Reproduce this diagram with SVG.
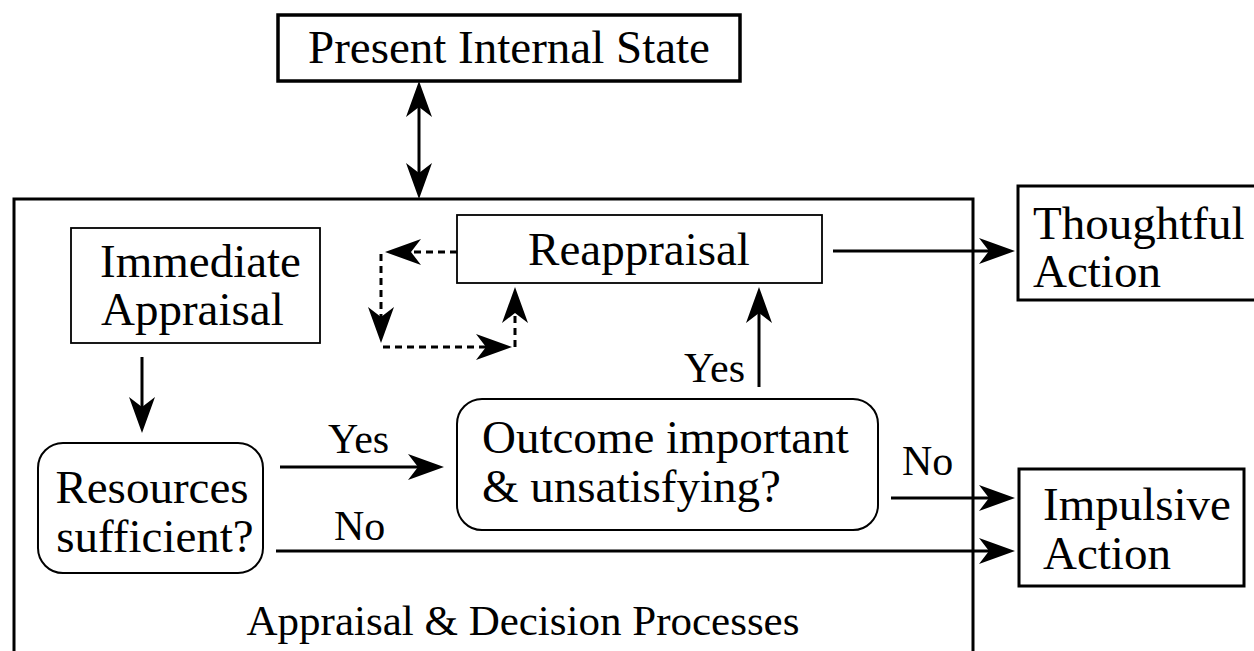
<svg xmlns="http://www.w3.org/2000/svg" width="1254" height="651" viewBox="0 0 1254 651" font-family="Tinos, 'Times New Roman', 'Liberation Serif', serif" font-size="47">
<defs>
<marker id="ah" viewBox="-18 -14 40 28" markerWidth="40" markerHeight="28" refX="0" refY="0" orient="auto-start-reverse" markerUnits="userSpaceOnUse">
<path d="M20,0 L-16,-13 L-6,0 L-16,13 Z" fill="#000"/>
</marker>
</defs>
<rect width="1254" height="651" fill="#fff"/>

<g id="appraisal-decision">
<path d="M14,660 L14,199 L973,199 L973,660" fill="none" stroke="#000" stroke-width="3"/>
<text x="523" y="635" text-anchor="middle" font-size="43">Appraisal &amp; Decision Processes</text>
</g>

<g id="present-internal-state">
<rect x="278" y="15" width="462" height="66" fill="#fff" stroke="#000" stroke-width="3.5"/>
<text x="509" y="63" text-anchor="middle">Present Internal State</text>
</g>

<g id="immediate-appraisal">
<rect x="71" y="228" width="249" height="115" fill="#fff" stroke="#000" stroke-width="1.8"/>
<text x="100" y="277">Immediate</text>
<text x="101" y="325">Appraisal</text>
</g>

<g id="reappraisal">
<rect x="457" y="215" width="365" height="68" fill="#fff" stroke="#000" stroke-width="1.8"/>
<text x="639" y="265" text-anchor="middle">Reappraisal</text>
</g>

<g id="thoughtful-action">
<rect x="1018" y="186" width="250" height="114" fill="#fff" stroke="#000" stroke-width="3"/>
<text x="1033" y="239">Thoughtful</text>
<text x="1033" y="287">Action</text>
</g>

<g id="resources-sufficient">
<rect x="38" y="443" width="225" height="130" rx="25" ry="25" fill="#fff" stroke="#000" stroke-width="2"/>
<text x="152" y="503" text-anchor="middle">Resources</text>
<text x="155" y="552" text-anchor="middle">sufficient?</text>
</g>

<g id="outcome-important">
<rect x="457" y="399" width="421" height="131" rx="25" ry="25" fill="#fff" stroke="#000" stroke-width="2"/>
<text x="482" y="453">Outcome important</text>
<text x="482" y="502">&amp; unsatisfying?</text>
</g>

<g id="impulsive-action">
<rect x="1019" y="469" width="225" height="117" fill="#fff" stroke="#000" stroke-width="3"/>
<text x="1043" y="520">Impulsive</text>
<text x="1043" y="569">Action</text>
</g>

<g id="connectors" fill="none" stroke="#000" stroke-width="3">
<line x1="419" y1="101" x2="419" y2="179" marker-start="url(#ah)" marker-end="url(#ah)"/>
<line x1="142" y1="357" x2="142" y2="413" marker-end="url(#ah)"/>
<line x1="280" y1="467" x2="424" y2="467" marker-end="url(#ah)"/>
<line x1="276" y1="551" x2="995" y2="551" marker-end="url(#ah)"/>
<line x1="891" y1="498" x2="995" y2="498" marker-end="url(#ah)"/>
<line x1="759" y1="387" x2="759" y2="307" marker-end="url(#ah)"/>
<line x1="833" y1="251" x2="995" y2="251" marker-end="url(#ah)"/>
<g stroke-dasharray="7 5">
<line x1="457" y1="252" x2="405" y2="252" marker-end="url(#ah)"/>
<line x1="381" y1="254" x2="381" y2="323" marker-end="url(#ah)"/>
<line x1="383" y1="347" x2="492" y2="347" marker-end="url(#ah)"/>
<line x1="515" y1="347" x2="515" y2="307" marker-end="url(#ah)"/>
</g>
</g>
<g id="edge-labels" font-size="42" fill="#000">
<text x="328" y="453">Yes</text>
<text x="334" y="540">No</text>
<text x="902" y="475">No</text>
<text x="745" y="382" text-anchor="end">Yes</text>
</g>
</svg>
